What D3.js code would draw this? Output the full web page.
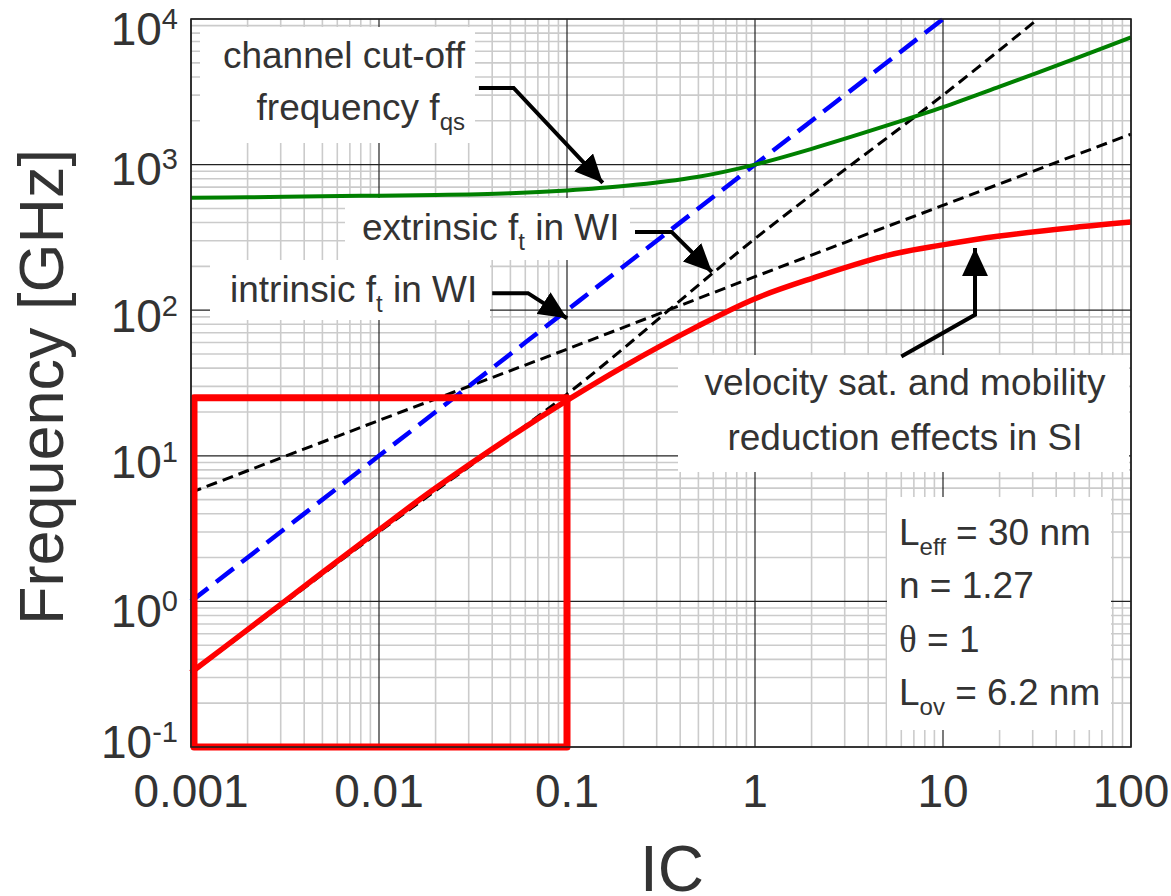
<!DOCTYPE html>
<html>
<head>
<meta charset="utf-8">
<script src="https://cdn.jsdelivr.net/npm/d3@7"></script>
<style>
body { margin: 0; background: #fff; }
svg { display: block; }
text { font-family: "Liberation Sans", Arial, sans-serif; fill: #333; }
</style>
</head>
<body>
<svg width="1171" height="896"></svg>
<script>
// values (IC vs frequency in GHz, log-log)
var icPts = [0.001, 0.002, 0.005, 0.01, 0.02, 0.05, 0.1, 0.2, 0.5, 1, 2, 5, 10, 20, 50, 100];
var fqs   = [593, 596, 606, 612, 618, 636, 665, 712, 825, 1000, 1283, 1850, 2480, 3430, 5320, 7480];
var ftSat = [0.325, 0.64, 1.58, 3.1, 6.0, 13.5, 24, 41, 78, 120, 165, 237, 281, 323, 370, 403];

var icIntr = [0.001, 0.01, 0.1, 1, 10];
var ftIntr = [1, 10, 100, 1000, 10000];

var icExtA = [0.001, 0.01, 0.1, 1, 10, 32];
var ftExtA = [0.32, 3.0, 26.5, 310, 3000, 10000];

var icExtB = [0.001, 0.01, 0.1, 1, 10, 100];
var ftExtB = [5.6, 17.5, 54, 170, 525, 1620];

// red zoom box (IC range, f range)
var boxIC = [0.001, 0.1];
var boxF = [0.1, 25];

var xTickVals = [0.001, 0.01, 0.1, 1, 10, 100];
var xTickLabels = ['0.001', '0.01', '0.1', '1', '10', '100'];
var yTickVals = [0.1, 1, 10, 100, 1000, 10000];
var yTickExp = ['-1', '0', '1', '2', '3', '4'];

// arrow paths [IC, f]
var arrChannel = [[0.034, 3360], [0.052, 3360], [0.155, 750]];
var arrExtr = [[0.23, 345], [0.36, 345], [0.59, 183]];
var arrIntr = [[0.04, 131], [0.062, 131], [0.1, 88]];
var arrVel = [[6.0, 48], [14.8, 93], [14.8, 267]];

const svg = d3.select('svg');
const L = 191, R = 1131, T = 19, B = 747;

const x = d3.scaleLog().domain([0.001, 100]).range([L, R]);
const y = d3.scaleLog().domain([0.1, 10000]).range([B, T]);

const isMajor = d => Math.abs(Math.log10(d) - Math.round(Math.log10(d))) < 1e-6;

svg.append('rect').attr('width', 1171).attr('height', 896).attr('fill', '#fff');

// grid
const grid = svg.append('g');
const xt = x.ticks(), yt = y.ticks();
grid.selectAll('.xm').data(xt.filter(d => !isMajor(d))).enter().append('line')
    .attr('x1', d => x(d)).attr('x2', d => x(d)).attr('y1', T).attr('y2', B)
    .attr('stroke', '#cbcbcb').attr('stroke-width', 1.6);
grid.selectAll('.ym').data(yt.filter(d => !isMajor(d))).enter().append('line')
    .attr('y1', d => y(d)).attr('y2', d => y(d)).attr('x1', L).attr('x2', R)
    .attr('stroke', '#cbcbcb').attr('stroke-width', 1.6);
grid.selectAll('.xM').data(xTickVals).enter().append('line')
    .attr('x1', d => x(d)).attr('x2', d => x(d)).attr('y1', T).attr('y2', B)
    .attr('stroke', '#222').attr('stroke-width', 1.2);
grid.selectAll('.yM').data(yTickVals).enter().append('line')
    .attr('y1', d => y(d)).attr('y2', d => y(d)).attr('x1', L).attr('x2', R)
    .attr('stroke', '#222').attr('stroke-width', 1.2);

// white label backgrounds
var boxes = [[200, 27, 275, 116], [345, 198, 285, 62], [210, 260, 280, 60], [678, 355, 451, 117], [887, 497, 224, 233]];
svg.selectAll('.bg').data(boxes).enter().append('rect')
    .attr('x', d => d[0]).attr('y', d => d[1]).attr('width', d => d[2]).attr('height', d => d[3])
    .attr('fill', '#fff');

const line = d3.line().x(d => x(d[0])).y(d => y(d[1])).curve(d3.curveCatmullRom.alpha(0.5));
const zip = (a, b) => a.map((v, i) => [v, b[i]]);

svg.append('path').attr('d', line(zip(icExtA, ftExtA)))
    .attr('fill', 'none').attr('stroke', '#000').attr('stroke-width', 3).attr('stroke-dasharray', '11,6');
svg.append('path').attr('d', line(zip(icExtB, ftExtB)))
    .attr('fill', 'none').attr('stroke', '#000').attr('stroke-width', 3).attr('stroke-dasharray', '11,6');
svg.append('path').attr('d', line(zip(icIntr, ftIntr)))
    .attr('fill', 'none').attr('stroke', '#0000ff').attr('stroke-width', 4.5).attr('stroke-dasharray', '22,10');
svg.append('path').attr('d', line(zip(icPts, fqs)))
    .attr('fill', 'none').attr('stroke', '#008000').attr('stroke-width', 4);
svg.append('path').attr('d', line(zip(icPts, ftSat)))
    .attr('fill', 'none').attr('stroke', '#ff0000').attr('stroke-width', 5.5);

// red box
svg.append('rect')
    .attr('x', x(boxIC[0]) + 3).attr('y', y(boxF[1]))
    .attr('width', x(boxIC[1]) - x(boxIC[0]) - 3).attr('height', y(boxF[0]) - y(boxF[1]))
    .attr('fill', 'none').attr('stroke', '#ff0000').attr('stroke-width', 7).attr('stroke-linejoin', 'round');

// border
svg.append('rect').attr('x', L).attr('y', T).attr('width', R - L).attr('height', B - T)
    .attr('fill', 'none').attr('stroke', '#222').attr('stroke-width', 1.6);

// arrows
svg.append('defs').append('marker')
    .attr('id', 'ah').attr('markerUnits', 'userSpaceOnUse')
    .attr('markerWidth', 30).attr('markerHeight', 26).attr('refX', 28).attr('refY', 13)
    .attr('orient', 'auto')
    .append('path').attr('d', 'M0,0L28,13L0,26Z').attr('fill', '#000');
const aline = d3.line().x(d => x(d[0])).y(d => y(d[1]));
[arrChannel, arrExtr, arrIntr, arrVel].forEach(a => {
    svg.append('path').attr('d', aline(a)).attr('fill', 'none')
        .attr('stroke', '#000').attr('stroke-width', 4).attr('marker-end', 'url(#ah)');
});

// annotation texts
const fs = 37, sub = 24;
let t = svg.append('text').attr('x', 465).attr('y', 68).attr('text-anchor', 'end').attr('font-size', fs).text('channel cut-off');
t = svg.append('text').attr('x', 465).attr('y', 120).attr('text-anchor', 'end').attr('font-size', fs);
t.append('tspan').text('frequency f');
t.append('tspan').attr('font-size', sub).attr('dy', 10).text('qs');

t = svg.append('text').attr('x', 362).attr('y', 240).attr('font-size', fs);
t.append('tspan').text('extrinsic f');
t.append('tspan').attr('font-size', sub).attr('dy', 10).text('t');
t.append('tspan').attr('dy', -10).text(' in WI');

t = svg.append('text').attr('x', 230).attr('y', 302).attr('font-size', fs);
t.append('tspan').text('intrinsic f');
t.append('tspan').attr('font-size', sub).attr('dy', 10).text('t');
t.append('tspan').attr('dy', -10).text(' in WI');

svg.append('text').attr('x', 905).attr('y', 395).attr('text-anchor', 'middle').attr('font-size', fs).text('velocity sat. and mobility');
svg.append('text').attr('x', 905).attr('y', 450).attr('text-anchor', 'middle').attr('font-size', fs).text('reduction effects in SI');

t = svg.append('text').attr('x', 899).attr('y', 545).attr('font-size', fs);
t.append('tspan').text('L');
t.append('tspan').attr('font-size', sub).attr('dy', 10).text('eff');
t.append('tspan').attr('dy', -10).text(' = 30 nm');
svg.append('text').attr('x', 899).attr('y', 598).attr('font-size', fs).text('n = 1.27');
t = svg.append('text').attr('x', 899).attr('y', 652).attr('font-size', fs);
t.append('tspan').attr('font-family', '"Liberation Serif", serif').text('\u03b8');
t.append('tspan').text(' = 1');
t = svg.append('text').attr('x', 899).attr('y', 705).attr('font-size', fs);
t.append('tspan').text('L');
t.append('tspan').attr('font-size', sub).attr('dy', 10).text('ov');
t.append('tspan').attr('dy', -10).text(' = 6.2 nm');

// tick labels
svg.selectAll('.xl').data(xTickVals).enter().append('text')
    .attr('x', d => x(d)).attr('y', 807).attr('text-anchor', 'middle').attr('font-size', 46)
    .text((d, i) => xTickLabels[i]);
var yLabelShift = [11, 26, 22, 22, 20, 26];
yTickVals.forEach((v, i) => {
    const tt = svg.append('text').attr('x', 178).attr('y', y(v) + yLabelShift[i]).attr('text-anchor', 'end').attr('font-size', 46);
    tt.append('tspan').text('10');
    tt.append('tspan').attr('dy', -16).attr('font-size', 29).text(yTickExp[i]);
});

// axis titles
svg.append('text').attr('transform', 'translate(63,387) rotate(-90)').attr('text-anchor', 'middle')
    .attr('font-size', 63).text('Frequency [GHz]');
svg.append('text').attr('x', 672).attr('y', 891).attr('text-anchor', 'middle').attr('font-size', 64).text('IC');
</script>
</body>
</html>
